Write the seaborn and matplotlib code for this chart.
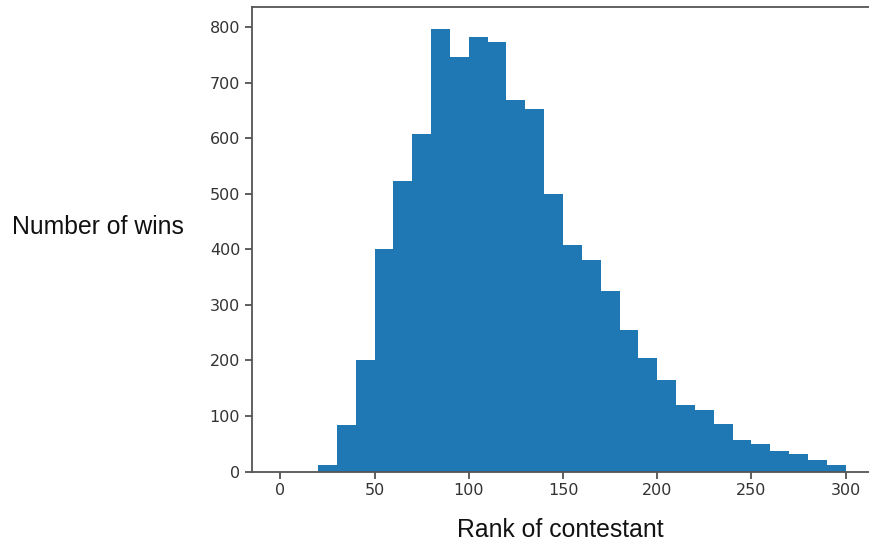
import numpy as np
import pandas as pd
import matplotlib
matplotlib.use("Agg")
import matplotlib.pyplot as plt
import seaborn as sns

# Histogram bins (rank ranges of width 10) and the wins counted in each
bin_edges = list(range(0, 310, 10))
win_counts = [0, 0, 11, 83, 201, 400, 522, 608, 796, 746,
              782, 773, 668, 652, 500, 408, 380, 325, 254, 205,
              164, 119, 110, 85, 56, 49, 37, 31, 21, 11]
x_ticks = [0, 50, 100, 150, 200, 250, 300]
y_ticks = [0, 100, 200, 300, 400, 500, 600, 700, 800]

bin_centers = [(a + b) / 2 for a, b in zip(bin_edges[:-1], bin_edges[1:])]
df = pd.DataFrame({"rank": bin_centers, "wins": win_counts})

sns.set_style("ticks")
plt.rcParams["font.family"] = ["DejaVu Sans"]
W, H = 869, 546
fig = plt.figure(figsize=(W / 100, H / 100), dpi=100)
ax = fig.add_axes([252 / W, 1 - 471.5 / H, (874 - 252) / W, (471.5 - 7) / H])

sns.histplot(data=df, x="rank", weights="wins", bins=bin_edges, ax=ax,
             color="#1f77b4", alpha=1, linewidth=0, element="bars")

ax.set_xlim(-15, 315)
ax.set_ylim(0, 836)
ax.set_xticks(x_ticks)
ax.set_yticks(y_ticks)
ax.tick_params(labelsize=11.5, colors="#333333", length=5, width=1.1)
for s in ax.spines.values():
    s.set_color("#555555")
    s.set_linewidth(1.3)
ax.set_xlabel("")
ax.set_ylabel("")

fig.text(12 / W, 1 - 227 / H, "Number of wins", ha="left", va="center",
         fontsize=17.8, family="Liberation Sans", color="#111111")
fig.text(560 / W, 1 - 530 / H, "Rank of contestant", ha="center", va="center",
         fontsize=17.8, family="Liberation Sans", color="#111111")

fig.savefig("out.png", dpi=100)
